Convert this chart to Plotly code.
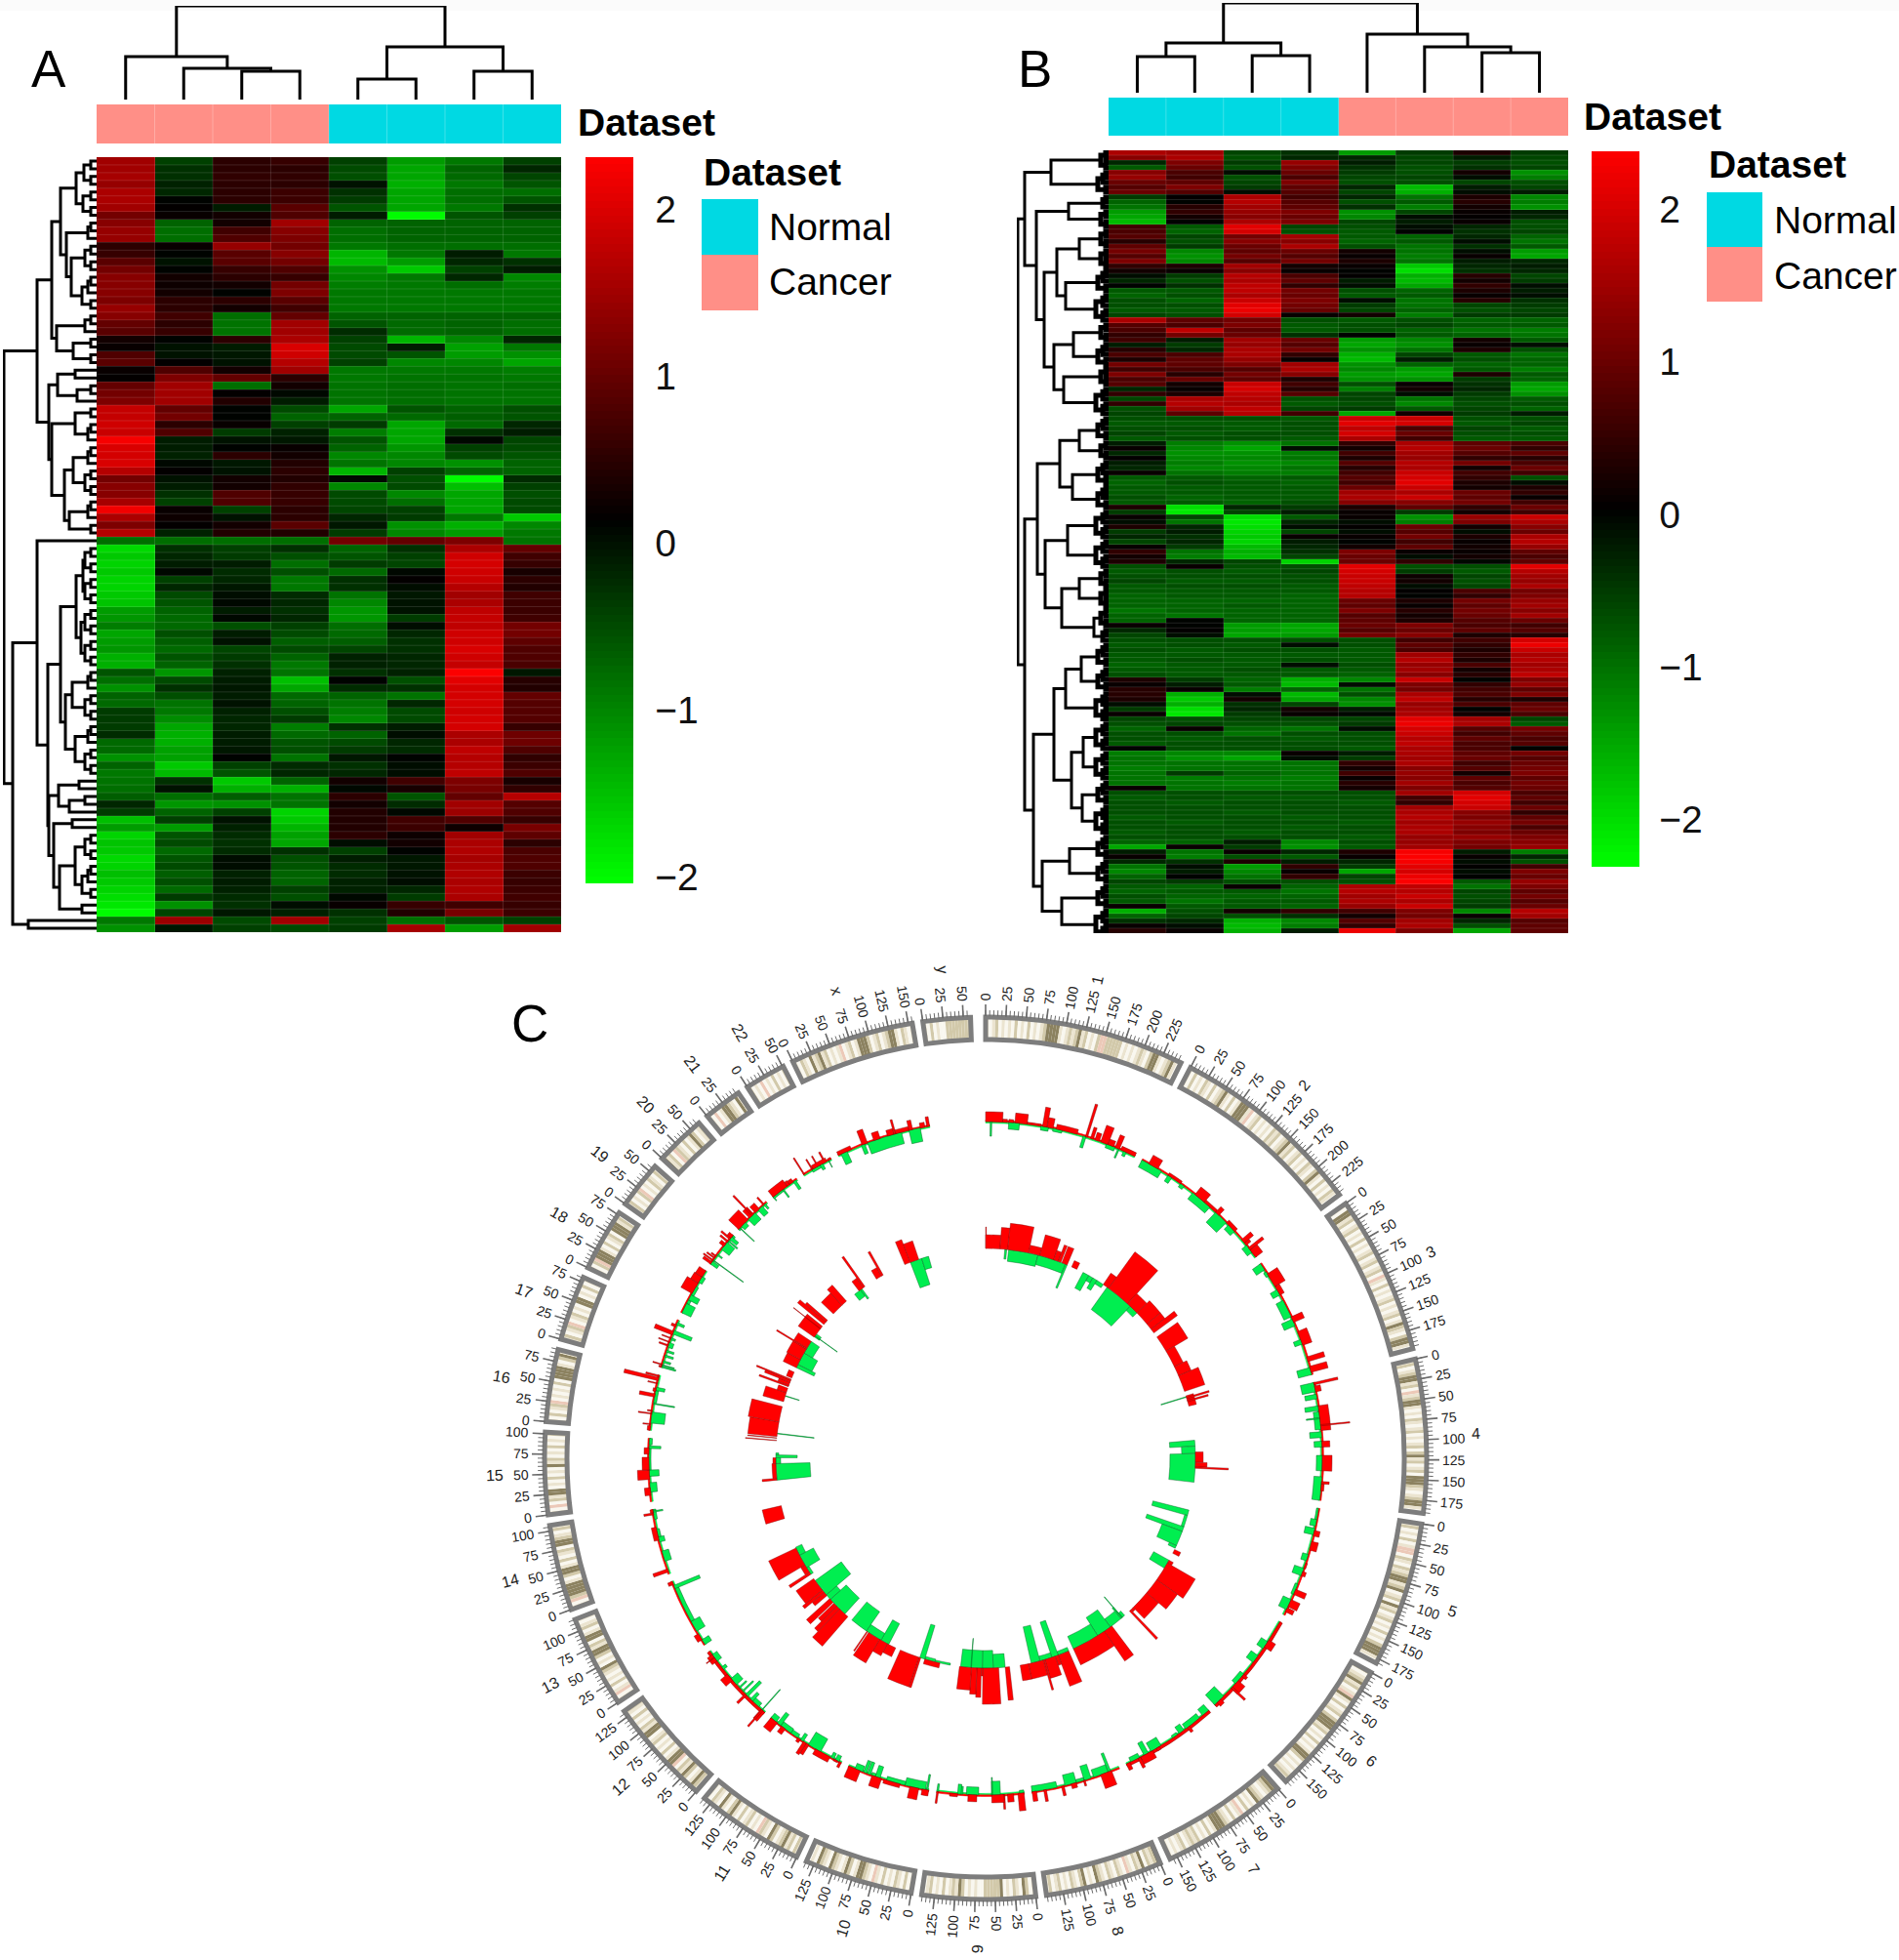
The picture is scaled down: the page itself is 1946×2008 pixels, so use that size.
"""Two expression heatmaps with dendrograms (A, B) and a circos-style genome plot (C)."""
import math

import plotly.graph_objects as go

W, H = 1946, 2008

COLUMNS = list(range(8))
ANNOT_A = [1, 1, 1, 1, 0, 0, 0, 0]  # 1 = Cancer, 0 = Normal
ANNOT_B = [0, 0, 0, 0, 1, 1, 1, 1]
COLORBAR_TICKS = [-2, -1, 0, 1, 2]

HEAT_A = [
    [1.5,-.4,.5,.6,-.4,-1.2,-.9,-.4],[1.5,-.3,.5,.5,-.5,-1.3,-.7,-.2],[1.55,-.3,.55,.55,-.55,-1.3,-.75,-.45],
    [1.4,-.15,.5,.5,0,-1.35,-.9,-.6],[1.6,-.2,.5,.65,-.3,-1.3,-.8,-.8],[1.6,.1,.5,.65,-.35,-1.3,-.8,-.6],
    [1.5,.15,-.1,.9,-.6,-1.3,-.9,-.3],[1.1,.2,.3,.8,-.1,-2,-.6,-.4],[1.3,-.7,.3,1.5,-.7,-.7,-.7,-.7],
    [1.4,-.8,.7,1.3,-.8,-.7,-.7,-.7],[1.4,-.8,.8,1.2,-.8,-.7,-.7,-.7],[.5,.2,1.4,1.1,-.9,-.8,-.8,-.8],
    [.6,.1,.9,1.3,-1.4,-.9,-.1,-.9],[.9,0,.9,1.1,-1.45,-1.2,-.2,-.3],[1.1,.1,.6,.8,-1.1,-1.6,-.4,-.1],
    [1.3,.3,.5,.6,-1,-.9,-.2,-1],[1.3,.25,.3,1.1,-.95,-.9,-.8,-.95],[1.3,.3,.1,1.2,-.9,-.9,-.9,-.9],
    [1.2,.5,.5,.9,-.9,-.9,-.9,-.9],[1.4,.5,.3,.7,-.9,-.9,-.9,-.9],[1.3,.7,-.8,1,-.7,-.7,-.7,-.7],
    [1,.5,-.85,1.5,-.6,-.75,-.7,-.8],[.9,.6,-.85,1.5,-.25,-.75,-.7,-.8],[.3,.1,.5,1.6,-.4,-1.4,-1,-.2],
    [.2,0,-.1,2,-.5,-.1,-1.25,-.9],[.8,0,-.05,1.9,-.5,-.6,-1.2,-1.1],[.9,.15,0,1.7,-.4,-1,-1,-1.3],
    [.2,.8,.3,1.5,-.9,-.9,-.9,-.95],[.15,1.2,1,.5,-.9,-.85,-.85,-.9],[1,1.5,-.8,.3,-.85,-.8,-.85,-.8],
    [1.1,1.5,.15,.05,-.85,-.8,-.85,-.85],[1.2,1.5,.4,-.1,-.85,-.8,-.85,-.85],[1.8,1,.1,-.5,-1.3,-.6,-.7,-.55],
    [1.8,1.1,.1,-.7,-.7,-.75,-.65,-.6],[1.9,.5,.2,-.4,-.35,-1.3,-.75,-.2],[1.85,.8,-.35,-.15,-.95,-1.3,-.3,-.1],
    [2.25,-.1,0,-.05,-.6,-1.3,.05,-.45],[2,-.1,.1,.2,-.7,-1.15,-.4,-.5],[1.95,-.15,.5,.3,-1,-1,-.5,-.6],
    [2,.05,-.05,.4,-.85,-1,-1.1,-.7],[1.7,.15,0,.5,-1.4,-.4,-.7,-.7],[1.1,0,.3,.4,.05,-.55,-2,-.25],
    [1.3,-.1,.3,.55,-1,-.5,-1.5,-.4],[1.3,-.3,.8,.6,-.5,-1,-1.3,-.55],[1.55,-.4,.8,.6,-.5,-.8,-1.3,-.5],
    [2.2,.2,-.4,.5,-.45,-.4,-1.3,-.5],[1.6,.25,0,.5,-.2,-.35,-.9,-1.6],[1.2,.15,.3,.9,-.05,-1.1,-1.35,-1],
    [1.7,-.15,.4,.4,-.35,-1,-1.2,-.9],[-.8,-.8,-.8,-.8,1.1,1,1.2,-.85],[-1.7,-.3,-.4,-.3,-.7,-.3,1.6,1],
    [-1.6,-.2,-.35,-.55,-.6,-.4,1.9,.7],[-1.65,-.1,-.1,-.8,-.35,-.45,1.95,.6],[-1.6,.05,-.25,-.55,-.75,.05,1.9,.35],
    [-1.65,-.4,-.2,-.9,-.3,.15,1.85,.5],[-1.65,-.2,-.05,-.9,-.3,.02,1.7,.4],[-1.6,-.5,.03,-.25,-.85,-.05,1.5,.7],
    [-1.55,-.6,.05,-.2,-1,-.02,1.6,.65],[-1.2,-.7,-.1,-.3,-1.15,-.02,1.75,.65],[-1.15,-.75,.05,-.2,-1.15,-.35,1.8,.7],
    [-.95,-.75,-.55,-.4,-.8,.02,1.75,1.1],[-1.3,-.55,-.1,-.5,-.75,-.2,1.9,1.1],[-1.2,-.65,0,-.65,-.65,-.3,1.9,.95],
    [-1.15,-.75,-.45,-.5,-.45,-.3,2,.8],[-1.35,-.6,-.35,-.7,-.15,-.2,1.9,.8],[-1.35,-.7,-.3,-.9,-.15,-.2,1.8,.75],
    [-.6,-1.15,-.15,-.85,-.3,-.15,2.3,-.05],[-.8,-.5,-.1,-1.5,.1,-.55,2.05,.45],[-1.1,-.3,-.05,-1.3,-.25,-.3,1.95,.4],
    [-.7,-.55,-.1,-.75,-.7,-.85,1.95,1],[-.75,-.85,0,-.7,-.85,-.2,1.95,.85],[-.35,-.9,-.15,-.55,-.95,-.5,1.9,.85],
    [-.35,-1.05,-.2,-.35,-1,-.5,1.95,.85],[-.35,-1.3,-.2,-.95,-.3,-.1,1.95,.6],[-.25,-1.35,-.1,-.75,-.7,.02,1.6,1.05],
    [-.75,-1.35,-.1,-.6,-.5,-.2,1.6,1.05],[-.75,-1.25,-.05,-.55,-.35,-.25,1.75,.8],[-1.1,-1.25,.1,-.85,-.05,.1,1.7,.55],
    [-.7,-1.6,-.4,-.25,-.3,.02,1.7,.65],[-.9,-1.45,-.6,-.2,-.2,.02,1.75,.8],[-.85,-.3,-1.6,-.7,.3,.7,1.2,.35],
    [-.8,-.02,-1.35,-1.35,.05,.35,1.15,.55],[-.65,-.8,-.65,-.85,.5,-.6,1,1.7],[-.2,-1.15,-1.1,-.85,.3,-.25,1.5,.85],
    [-.35,-.7,-.4,-1.65,.4,.05,1.45,.8],[-1.5,-.4,-.02,-1.6,.4,.7,.8,.6],[-1.2,-1.2,-.15,-1.4,.4,.65,.25,1.15],
    [-1.65,-.6,-.25,-1.25,.5,.25,1.5,.95],[-1.55,-.5,-.3,-1.3,.02,.3,1.6,.5],[-1.6,-.75,-.25,-.3,-.4,.1,1.65,.75],
    [-1.7,-.6,.03,-.55,-.1,-.05,1.55,.8],[-1.65,-.5,.02,-.6,-.25,-.05,1.6,.8],[-1.5,-.65,-.15,-.7,-.25,-.03,1.65,.65],
    [-1.6,-.55,-.1,-.7,-.15,.02,1.6,.6],[-1.65,-.75,-.15,-.4,-.15,-.2,1.65,.65],[-1.75,-.35,-.25,-.55,.05,-.35,1.6,.7],
    [-1.85,-1.1,-.3,.03,.2,.6,.7,.6],[-2.05,-.45,-.05,-.15,-.3,.4,1.15,.65],[-.9,1.45,-.5,1.5,-.4,-.8,-.6,-.4],
    [-1.1,-.05,-.4,-.5,-.35,1.55,-1.2,1.5],
]

HEAT_B = [
    [1.6,1.5,-.6,-.4,-1.4,-.5,.3,-.5],[1.3,1.6,-.7,-.3,-.3,-.6,-.2,-.6],[-.3,1.2,-.5,1.4,-.2,-.6,-.5,-.7],
    [-.8,1,-.7,1.2,-.4,-.7,-.4,-.6],[1.3,.7,-.1,1,-.5,-.7,.2,-1.3],[1.4,.6,-.7,.7,-.6,-.6,-.1,-1.1],
    [1,.9,-.6,1.2,-.7,-.7,-.6,-.7],[.8,1.2,-.5,.9,-.3,-1.7,-.2,-.6],[1,.8,-.1,.8,-.6,-1.6,-.1,-.2],
    [-.5,.05,1.6,.6,-.3,-1,.3,-1.2],[-.9,0,1.7,.8,-.7,-.8,.4,-1.1],[-1,.4,1.5,.9,-.4,-1.1,.2,-1.3],
    [-1.4,.5,1.4,1.2,-1.3,-.6,.1,-.2],[-1.5,.2,1.3,1,-1.2,-.1,.05,-.3],[-1.7,0,1.6,1.2,-.6,-.2,.1,-.7],
    [.6,-.8,2.1,-.6,-.7,-.1,-.3,-.7],[.7,-.9,2,-.7,-.8,0,-.4,-.6],[.8,-.6,1.1,1.5,-.8,-.9,-.3,-.9],
    [.4,-.7,1.3,1.3,-.9,-.8,-.1,-1],[.9,-.5,1,1.6,-.7,-1,-.4,-.8],[1.1,-1.2,.9,1,.2,-1,-.1,-1.4],
    [.8,-1.3,1.1,.8,.1,-1.1,.1,-1.5],[1.2,-1.2,.8,1.1,.3,-1,-.2,-.3],[.5,.3,1.5,.2,.1,-1.8,-.3,-.2],
    [.2,.1,1.3,.1,0,-2,-.4,-.3],[-.1,-.5,1.7,.7,.05,-1.6,.4,-.6],[-.3,-.7,1.6,.9,-.2,-1.7,.2,-.5],
    [0,-.4,1.8,.5,-.1,-1.5,.5,-.1],[-.8,-.8,1.8,1.1,-.7,-.9,.3,-.2],[-.9,-.7,1.6,1,-.8,-.8,.1,-.1],
    [-.7,-.9,1.9,1.2,-.1,-1,.4,-.4],[-.7,-.7,2.1,1.1,-.5,-1,-.6,-.5],[-.8,-.8,2.2,1,-.6,-.9,-.7,-.6],
    [-.6,-.7,2,.1,.2,-1.1,-.5,-.5],[1.6,.9,1.1,-.7,-.8,-.7,-.9,-.9],[.8,.7,1.2,-.8,-.7,-.6,-.8,-.8],
    [.7,1.8,.9,-.8,-.7,-.9,-1,-1.1],[.5,1.1,1,-.4,0,-.8,-.9,-1],[.6,-.2,1.5,1,-1.4,-1.2,.2,-.8],
    [-.2,-.5,1.4,.8,-1.5,-1.3,.1,-.1],[.4,-.3,1.6,1.1,-1.3,-1,.3,-.7],[.7,.7,1.6,.5,-1.6,-.6,-.8,-1],
    [.3,.9,1.4,.1,-1.7,-.2,-.7,-.9],[1.1,.9,1.2,1.5,-1.3,-.9,-.9,-.9],[.6,.7,.8,1.6,-1.2,-1.4,-.8,-1.1],
    [1.2,.4,1.1,1.3,-1.4,-1.5,.3,-.8],[.7,1,.9,.3,-1.3,-1.3,-.5,-.9],[.8,.2,1.9,.6,-.7,.1,-.4,-1.4],
    [-.3,.1,2,.4,-1.1,.2,-.3,-1.5],[.5,.3,1.8,.8,-.6,-.1,-.5,-1.3],[-.6,1.6,1.7,-.7,-.6,-1,-.6,-.8],
    [.5,1.7,1.6,-.8,-.7,-1.2,-.7,-.7],[-.7,1.5,1.8,-.6,-.5,-.8,-.6,-.9],[-.6,.9,1.7,.6,-1.5,.2,-.5,-.2],
    [-.7,-.7,-.7,-.8,1.9,1.9,-.7,-.7],[-.8,-.8,-.8,-.7,2.1,2,-.8,-.6],[-.7,-.7,-.8,-.7,1.8,.7,-.6,-.8],
    [-.6,-.8,-.7,-.7,2,1,-.7,-.7],[-.8,-.7,-.7,-.8,1.6,.6,-.8,-.8],[-.2,-1.1,-1.3,-1,.5,1.6,.9,.7],
    [.1,-1.2,-1.5,-.1,.2,1.7,1,.5],[-.3,-1.3,-1.3,-1.1,.6,1.5,.8,.9],[.05,-1.2,-1.2,-1,.3,1.4,.5,.4],
    [-.2,-1.1,-1.3,-1.2,.8,1.7,1.1,.7],[-.3,-1.2,-1.2,-1,.4,1.6,.2,1],[.1,-1,-1.1,-1.1,.6,1.9,.6,.6],
    [-.8,-.8,-.9,-.8,.8,2,.5,-.7],[-.9,-.7,-.8,-.9,.6,2.1,.3,-.1],[-.8,-.8,-.8,-.8,1,1.9,.2,.3],
    [-.8,-.8,-.8,-.8,1.5,1.6,1,.5],[-.7,-.9,-.8,-.8,1.6,1.9,.9,.1],[-.8,-.8,-.9,-.7,1.3,1.3,1.1,.6],
    [.3,-2,-.3,-.5,.3,.9,.5,1],[-.5,-2.1,-.6,-.2,.1,-.5,.2,.6],[.1,-.6,-2,-.8,.1,-1.3,1.4,1.9],
    [-.1,-1,-2.1,-.3,-.1,-1.1,1.2,1.6],[.3,-.3,-2,-.1,.05,1,.2,1.3],[-.5,-.2,-1.9,-.6,-.1,.8,-.1,1],
    [-.3,-.4,-1.8,.1,.1,1.1,.3,1.6],[-.6,-.3,-1.9,-.2,0,.6,.1,1.7],[.1,-.5,-1.7,-.3,.2,.9,.2,1.4],
    [.5,-1,-1.6,-.4,1.2,.1,.1,.9],[.2,-1.1,-1.7,-.6,1,-.1,.2,.7],[.3,-.3,-.6,-1.9,1,.5,-.05,.9],
    [-.7,.1,-.7,-.7,2.1,-.7,-.7,2.1],[-.8,-.7,-.8,-.6,2,-.5,-.8,1.7],[-.7,-.7,-.7,-.7,1.9,.15,-.6,1.5],
    [-.6,-.8,-.8,-.7,1.9,.2,-.7,1.4],[-.8,-.7,-.7,-.8,1.8,-.1,-.6,1.6],[-.8,-.8,-.8,-.8,1.7,.05,.7,1.1],
    [-.9,-.8,-.8,-.9,1.7,0,.5,1.2],[-.9,-.9,-.9,-.9,1,.3,1.1,1.4],[-.9,-.9,-.8,-.9,.9,.1,.9,1.5],
    [-1,-.9,-.9,-.9,1.2,.4,1.1,1.3],[-.9,-1,-.9,-.9,.8,.2,1,1.5],[-.9,0,-.9,-.9,.9,.3,.8,1],
    [.1,0,-1.4,-1.5,1,1.2,.7,.6],[-.3,.05,-1.4,-1.5,.8,1,.9,.8],[-.6,-.1,-1.5,-1.4,1.1,1.3,.3,.4],
    [-.7,-.7,-.7,-.7,-.7,.6,.6,2],[-.8,-.7,-.8,-.1,-.7,.9,.5,2.2],[-.7,-.8,-.7,-.7,-.8,.7,.3,1.9],
    [-.8,-.8,-.8,-.8,-.8,1.5,.5,1.6],[-.8,-.7,-.8,-.7,-.8,1.7,.3,1.7],[-.9,-.8,-.8,-.1,-.7,1.4,.7,1.5],
    [-.8,-.8,-.7,-.8,-.8,1.5,.2,1.6],[-.7,-.8,-.8,-.8,-.9,1.3,.4,1.8],[.3,-.5,-.9,-1.6,-1.2,1.9,0,1.2],
    [.1,-.2,-.8,-1.7,-.1,1.2,.5,1.4],[.4,.1,-1.1,-.9,-1,1.1,.6,.9],[.4,-1.6,-.1,-1.7,-.7,1.6,.7,1.2],
    [.3,-1.8,.2,-1.5,-1.2,1.8,.4,.3],[-.1,-1.6,-.4,-.6,-1.3,1.4,.7,.9],[-.5,-2,-.3,.2,-.2,1.5,0,1],
    [.1,-2.1,-.5,.1,-.05,1.6,.2,.7],[-.6,-.7,-.6,-.6,-.6,2.1,1.5,-.6],[-.7,-.6,-.7,-.7,-.5,2.2,1.6,-.8],
    [-.9,.1,-.9,-1,-.1,2,.8,1.1],[-.7,-.7,-1,-.7,-.7,1.9,.6,.9],[-.7,-.8,-.7,-.8,-.7,1.7,.9,.7],
    [-.8,-.7,-.7,-.7,-.7,1.8,.7,.8],[0,-.7,-.7,-.7,-.8,1.6,.7,0],[-1.1,-1.2,-1.2,.1,-.2,1.6,.9,1.1],
    [-1,-1.3,-1.5,-.1,-.5,1.5,1,.8],[-1,-1,-1,-1,.5,1.6,.6,1],[-1.1,-1,-1,-1,.2,1.3,.8,1.1],
    [-1,-.5,-.9,-1,.6,1.4,.2,1.2],[-1,-1.1,-1,-1.1,.1,1.3,.9,.9],[-1,-1,-1.1,-1,.4,1.5,.7,1.1],
    [.1,-1,-1,-1,.2,1.2,.8,1],[-.7,-.7,-.7,-.7,-.7,1.5,2,.7],[-.8,-.7,-.8,-.8,-.7,.6,2.1,.9],
    [-.7,-.8,-.7,-.7,-.8,.5,2,.6],[-.7,-.7,-.7,-.7,-.7,1.5,1.9,1],[-.7,-.7,-.8,-.7,-.7,1.6,1.3,.5],
    [-.8,-.7,-.7,-.8,-.7,1.7,1.2,.9],[-.7,-.8,-.7,-.7,-.8,1.5,1.4,1.1],[-.7,-.7,-.7,-.8,-.7,1.6,1.3,.7],
    [-.8,-.7,-.8,-.7,-.7,1.6,1.2,1],[-.7,-.7,-.7,-.7,-.8,1.4,1.4,1.2],[-.9,-.9,-.2,-1.2,-.7,1.4,1.2,1.3],
    [-1.5,.1,-.5,-1.3,-.8,1.5,1.1,1.4],[-.2,-1,.1,-.3,.3,2.3,-.2,-1.1],[.1,-1.1,-.7,-.8,.1,2.4,.1,-.3],
    [-.3,-.4,.3,-.2,-.3,2.3,-.1,-.7],[-1,-.1,-1.4,.5,-.5,2.1,.05,.6],[-1.2,-.2,-1.2,.1,-1.5,2,-.1,1.2],
    [-.9,0,-1,.5,-.6,2.2,0,1],[-.6,-.5,-.7,-.7,-.7,2.4,-.8,1.4],[-.8,-.9,.1,-.9,1.6,1.8,-1,1.2],
    [-.9,-.8,-.8,-1,1.7,1.7,-.6,.9],[-.7,-.9,-.9,-.9,1.5,1.9,-.7,1.1],[-.8,-1,-.8,-.8,1.6,1.6,-.6,.8],
    [.1,-.8,-.8,-.9,1.4,1.9,-.5,1],[-1.6,-.7,.2,.5,.6,1.2,-1.2,1.7],[-.9,-.6,-.7,-.4,.2,1.1,.1,1.5],
    [-.4,-.3,-1.6,-1.2,.8,1.5,-.3,.8],[.1,-.1,-1.7,-1.1,.5,1.6,-.7,.9],[.4,.1,-1.6,-.2,2.2,1.2,-1.5,.9],
]

# dendrograms: [merge height in pixels, left child, right child]; 0 is a leaf
t2 = [6, 0, 0]
t3 = [9, t2, 0]
t4 = [12, t2, t2]
t5 = [15, t3, t2]
TREE_A_TOP = [96, [44, 0, [32, 0, [29, 0, 0]]], [54, [21, 0, 0], [29, 0, 0]]]
TREE_A_ROWS = [95,
    [61,
        [46,
            [37, [21, [13, t2, t2], [14, t2, t2]], [31, t3, [26, t4, t5]]],
            [41, [12, t2, 0], [24, t2, t2]]],
        [49,
            [40, [22, 0, 0], [20, t2, 0]],
            [46, [22, t2, t3], [33, [24, t3, t4], [28, t3, t2]]]]],
    [86,
        [61, 0,
            [50,
                [37, [21, [14, t4, t4], [16, t4, t4]], [32, [25, t3, t4], [22, t3, t4]]],
                [49,
                    [39, [18, 0, 0], [28, [12, 0, 0], 0]],
                    [44, [25, 0, 0], [38, [22, t4, t5], [15, 0, 0]]]]]],
        [70, 0, 0]]]

u2 = [3, 0, 0]
u3 = [6, u2, 0]
u4 = [8, u2, u2]
u5 = [11, u3, u2]
u6 = [13, u3, u3]
u7 = [15, u4, u3]
u8 = [17, u4, u4]
TREE_B_TOP = [92, [51, [37, 0, 0], [38, 0, 0]], [60, 0, [47, 0, [41, 0, 0]]]]
TREE_B_ROWS = [93,
    [86,
        [59, u4, u5],
        [74,
            [41, u3, u4],
            [66,
                [53, [30, u4, u4], [44, u5, u6]],
                [56, [36, u4, u5], [46, u4, u6]]]]],
    [86,
        [73,
            [50, [30, u5, u4], [37, u5, u5]],
            [65, [42, u6, u6], [48, [30, u4, u4], u7]]],
        [77,
            [56, [44, [28, u5, u5], u6], [38, [26, u6, u6], [27, u5, u6]]],
            [68, [40, u5, u5], [48, u5, u6]]]]]

# genome plot
CHROMS = ["1","2","3","4","5","6","7","8","9","10","11","12","13","14","15","16","17","18","19","20","21","22","x","y"]
CHROM_MB = [249,243,198,191,181,171,159,146,141,135,135,133,115,107,102,90,81,78,59,63,48,51,155,59]
DEG_PER_MB = 0.1056
GAP_DEG = 1.38

# one letter per equal slice of the chromosome: w white, l light, t tan, d dark, r red
BANDS = {
    "1": "lwltwlwlwtwlwtwlwltddddlwltltdltwlwtrrtttttwlwlwltlwtddlwltdlw",
    "2": "lwtwlwtlwtwltdlwtwldddlrwltwlwlwtltwltdltwltwlwtlwtdlwtwlwtlw",
    "3": "lwddltwltwlwtwlwltwltwltwrlwtwlwltwlwltwldtlwtddlw",
    "4": "ltwltddltwrltddlwlwtlwltwlwltwtdltwltwdddtlwltddlw",
    "5": "ltwlwtwlrrwtlwtltddltdwltwdltwltwlwtwlwtdddlw",
    "6": "twltdltwlrdlwtwltwtdddltwlwtwlwlddtwlwlwltl",
    "7": "ddtlwltdwlwtwrlwtwltdddlwtwlwtltlwtlwlwl",
    "8": "dtltwdltwlrwltwltwltdwlwdtwltwlwtlwtl",
    "9": "lwtdwltwlwdtttttwwlwlwtdltlwtwlwtlw",
    "10": "lwtwltwlwtwlrwltddlwtdlwltdwltdwlw",
    "11": "ltwtldtlwtdwltrwlwtlwtwldtwldwltwl",
    "12": "ltdlwtdltwrddlwtwlwtlwddltwlwtwlt",
    "13": "lwrlwtwlwltdwlwtddltwddlwtlwl",
    "14": "lwrtddddlwtddlwtwltwddtlwtl",
    "15": "lwrwtlddwlwtwlwdltwlwtwlwt",
    "16": "lwtwltrwlwlwtwddddlwtdl",
    "17": "ltwltrwltwlwddwlwtwl",
    "18": "lwtrdddlwtwltwdddltw",
    "19": "ltwlwtrwlwtlwtl",
    "20": "dltwrtlwtwldtwlt",
    "21": "lwrwlddtlwdl",
    "22": "twlwrwlwtwlwt",
    "x": "lwtlwdltdltwlwlrwltwldddtwltwltddlwtlwl",
    "y": "lwtwlwwtttttttt",
}
BAND_COLORS = {"w": "#f9f7ef", "l": "#ebe4d0", "t": "#d2c9aa", "d": "#8c8260", "r": "#ecc9b8"}

# histogram tracks: chromosome -> (start %, end % along the chromosome, height)
OUTER_RED = {
    "1": [(0,11,10),(11,14,3),(15,18,3),(19,27,10),(27,36,2),(37,40,20),(40,44,10),(46,60,5),(65.5,67,35),(69,71,12),(72,75,8),(76,81,18),(81,85,6),(86,89,14),(90,100,4)],
    "2": [(5,12,10),(20,30,3),(42,50,10),(50,60,3),(60,63,8),(70,78,4),(85,88,12),(88,90,6),(92,94,18),(94,100,9)],
    "3": [(10,22,12),(22,30,5),(50,55,12),(63,75,10),(85,89,18),(93,98,18)],
    "4": [(0,2,25),(3,8,6),(20,41,10),(36,37,30),(50,55,8),(62,75,10),(84,86,8),(86,92,3)],
    "5": [(20,25,6),(30,38,7),(50,55,2),(58,62,4),(75,80,12),(85,92,10),(93,97,8)],
    "6": [(0,100,3),(20,28,8),(60,63,5),(68,78,9),(76,78,18),(92,97,5)],
    "7": [(0,100,3),(25,28,6),(62,66,3),(70,84,8),(84,87,11),(96,100,7)],
    "8": [(9,22,15),(40,42,6),(50,56,5),(64,67,10),(84,87,12),(95,100,10)],
    "9": [(0,7,18),(12,19,8),(22,24,15),(23,37,8),(54,64,7),(76,85,3),(98,100,12)],
    "10": [(0,8,6),(12,23,12),(35,55,4),(58,70,11),(85,100,12)],
    "11": [(0,3,6),(5,10,2),(15,35,6),(44,48,12),(48,52,14),(56,60,4),(78,84,7),(90,100,12)],
    "12": [(0,100,3),(0,6,12),(3,5,22),(30,33,12),(55,65,9),(85,95,6),(90,91,10)],
    "13": [(8,18,5),(95,100,5)],
    "14": [(3,8,16),(53,73,5),(92,95,10),(95,100,3)],
    "15": [(10,22,6),(35,50,12),(50,70,7),(75,85,5)],
    "16": [(0,8,3),(10,12,8),(29,31,14),(34,36,5),(60,66,16),(70,76,3),(84,86,10),(90,96,36),(97,100,14)],
    "17": [(0,3,3),(5,7,10),(44,47,10),(52,54,12),(60,62,10),(68,76,20),(85,90,5)],
    "18": [(45,70,13),(70,85,9),(85,100,8)],
    "19": [(0,8,10),(10,14,12),(18,22,10),(24,28,6),(60,70,6),(75,80,10),(85,90,12),(90,100,5)],
    "20": [(0,35,14),(40,55,10),(48,52,28),(60,75,8),(88,92,10)],
    "21": [(0,60,8),(60,70,5),(70,85,4)],
    "22": [(0,4,20),(30,34,12),(50,54,12),(75,80,12),(35,85,4),(90,100,2)],
    "x": [(0,15,4),(27,33,15),(40,47,8),(55,62,6),(62,64,15),(64,78,4),(78,82,10),(90,95,5),(97,100,10)],
}
OUTER_GREEN = {
    "1": [(3,4,15),(15,22,7),(36,41,4),(44,50,3),(64,66,12),(80,86,4),(88,89,10),(92,94,5)],
    "2": [(0,15,8),(20,23,7),(30,33,4),(40,55,8),(60,70,14),(72,78,6),(90,96,6)],
    "3": [(0,6,10),(8,12,3),(25,30,8),(35,50,8),(52,58,12),(70,74,8),(94,100,14)],
    "4": [(0,8,14),(10,14,12),(20,24,14),(25,40,6),(30,31,14),(42,47,12),(50,55,8),(62,75,6),(80,100,8)],
    "5": [(0,10,2),(10,16,6),(18,24,10),(42,48,6),(55,62,10),(70,80,3),(85,95,9)],
    "6": [(22,30,8),(38,46,9),(60,72,5),(88,100,14)],
    "7": [(0,8,8),(12,30,6),(32,38,8),(40,46,3),(60,72,10),(75,80,14),(85,95,5)],
    "8": [(10,13,20),(13,30,8),(33,41,15),(41,50,3),(50,63,11),(72,100,6)],
    "9": [(0,5,3),(27,37,14),(36,37,18),(52,66,8),(70,73,8),(72,76,10),(98,100,8)],
    "10": [(1,3,16),(4,29,8),(29,52,4),(60,66,12),(66,71,3),(72,76,13),(77,81,13),(82,92,6)],
    "11": [(3,8,6),(10,14,6),(28,45,15),(52,56,8),(60,70,4),(70,85,5),(85,90,14),(92,100,6)],
    "12": [(4,5,28),(10,20,5),(20,24,10),(28,32,20),(36,38,15),(42,44,10),(48,58,9),(72,76,5),(85,95,6)],
    "13": [(0,8,8),(22,38,10),(38,90,4),(89,94,28)],
    "14": [(20,36,7),(50,58,6),(58,70,3),(85,100,3),(96,98,10)],
    "15": [(15,30,7),(40,50,10),(50,85,2),(84,88,12),(90,100,3)],
    "16": [(13,33,14),(47,49,22),(50,72,3),(72,78,9)],
    "17": [(0,3,15),(4,6,13),(10,14,8),(22,26,9),(32,36,8),(42,52,5),(58,62,5),(70,78,20),(90,95,8)],
    "18": [(0,22,10),(22,30,3),(30,42,10),(42,62,3),(72,86,4)],
    "19": [(0,10,8),(12,14,38),(30,34,6),(50,75,10),(78,82,12),(85,95,9),(95,100,3)],
    "20": [(0,5,2),(4,6,20),(10,25,5),(35,60,9),(70,85,9),(90,95,6)],
    "21": [(0,3,5),(0,40,2),(40,45,10),(85,95,10)],
    "22": [(30,60,3),(60,70,6),(90,92,8)],
    "x": [(3,10,12),(26,30,10),(33,70,12),(78,90,14)],
}
INNER_RED = {
    "1": [(0,.7,22),(0,15,14),(15,23,22),(23,45,27),(45,57,8),(57,72,22),(72,77,10),(77,80,18),(81,87,18),(92,98,7)],
    "2": [(25,32,14),(32,58,46),(58,72,14),(72,88,18),(88,95,18),(95,100,30)],
    "3": [(0,22,26),(22,45,10),(45,58,14),(58,80,22),(86,100,8),(88,90,24),(92,94,22)],
    "4": [(56,70,8),(70,76,12),(76,78,34)],
    "5": [(90,96,7)],
    "6": [(0,5,5),(5,35,33),(35,60,26),(60,90,16),(90,95,3),(95,98,40)],
    "7": [(27,42,37),(42,100,18)],
    "8": [(0,20,34),(20,26,10),(26,45,20),(45,48,32),(48,75,16),(75,90,16)],
    "9": [(0,8,34),(20,49,37),(49,52,8),(52,60,30),(60,70,27),(70,92,23)],
    "10": [(20,50,5),(58,62,32),(62,100,32)],
    "11": [(0,18,10),(18,35,14),(35,60,28),(62,64,24)],
    "12": [(0,22,40),(22,30,32),(30,38,22),(40,50,32),(58,66,16),(66,72,26),(72,100,22)],
    "13": [(0,6,25),(6,25,5),(25,68,31)],
    "14": [(30,62,20)],
    "15": [(13,18,15),(18,55,4),(55,70,3)],
    "16": [(0,2,32),(7,9,30),(12,55,30),(55,100,32)],
    "17": [(0,30,22),(30,45,10),(50,55,32),(55,65,12),(65,72,28),(72,76,38),(80,100,6)],
    "18": [(0,30,15),(30,70,16),(70,74,36),(74,100,16)],
    "19": [(0,60,20),(45,47,35),(70,85,35),(85,95,28)],
    "20": [(10,60,17),(60,85,22)],
    "21": [(40,70,12),(70,80,38)],
    "22": [(25,55,10),(55,65,28)],
    "x": [(20,30,25),(30,45,20)],
}
INNER_GREEN = {
    "1": [(20,22,10),(24,55,12),(55,85,10),(85,87,26)],
    "2": [(0,7,18),(7,12,6),(12,17,12),(17,25,4),(30,62,28),(62,72,6)],
    "3": [(87,88,27)],
    "4": [(40,48,26),(48,58,14),(58,97,26)],
    "5": [(30,38,38),(38,55,3),(55,62,40),(62,84,22),(84,88,8)],
    "6": [(0,14,18)],
    "7": [(0,5,6),(5,8,14),(5,6,28),(8,30,10),(30,55,22),(55,100,14)],
    "8": [(0,20,4),(20,32,38),(32,54,5),(54,70,38)],
    "9": [(8,30,14),(30,50,18),(50,90,18),(70,71,30)],
    "10": [(0,30,2),(30,50,3),(50,60,36)],
    "11": [(15,32,24),(32,65,8),(65,100,24)],
    "12": [(8,48,22),(48,60,14),(60,95,33)],
    "13": [(0,18,3),(18,50,16),(50,70,7)],
    "15": [(13,55,35),(55,70,5),(70,77,22),(77,82,3)],
    "16": [(20,22,38)],
    "17": [(18,20,15)],
    "18": [(0,12,20),(12,55,16),(55,100,10)],
    "19": [(2,18,6),(6,8,28)],
    "21": [(10,50,8),(50,60,12)],
    "x": [(30,50,28),(50,62,12)],
}
OUTER_BASE, INNER_BASE = 345, 215
IDEO_IN, IDEO_OUT = 429, 452

RED, GREEN = "#ff0000", "#00ee50"
NORMAL, CANCER = "#00d9e3", "#ff8f87"
FONT = "Liberation Sans"


def band_scale(steps=100):
    # the green-black-red ramp, cut into flat steps like the colour key
    scale = []
    for i in range(steps):
        f = (i + 0.5) / steps
        if f < 0.5:
            c = f"rgb(0,{round(255 * (1 - 2 * f))},0)"
        else:
            c = f"rgb({round(255 * (2 * f - 1))},0,0)"
        scale += [[i / steps, c], [(i + 1) / steps, c]]
    return scale


def tree_lines(node, xs, hs, counter):
    """Walk a nested tree, return (leaf position, height) and collect the elbows."""
    if node == 0:
        counter[0] += 1
        return counter[0] - 1, 0
    p1, h1 = tree_lines(node[1], xs, hs, counter)
    p2, h2 = tree_lines(node[2], xs, hs, counter)
    h = node[0]
    xs += [p1, p1, p2, p2, None]
    hs += [h1, h, h, h2, None]
    return (p1 + p2) / 2, h


fig = go.Figure()
layout_axes = {}
axis_count = [0]


def add_axes(x0, x1, y0, y1, xrange, yrange):
    axis_count[0] += 1
    n = axis_count[0]
    sfx = "" if n == 1 else str(n)
    layout_axes["xaxis" + sfx] = dict(domain=[x0 / W, x1 / W], range=xrange, visible=False,
                                      anchor="y" + sfx, fixedrange=True)
    layout_axes["yaxis" + sfx] = dict(domain=[1 - y1 / H, 1 - y0 / H], range=yrange, visible=False,
                                      anchor="x" + sfx, fixedrange=True)
    return "x" + sfx, "y" + sfx


def heat_panel(z, annot, tree_top, tree_rows, box, annot_y, top_y, root_x, bar):
    x0, x1, y0, y1 = box
    nrows = len(z)
    xr, yr = [-.5, 7.5], [nrows - .5, -.5]
    zmin, zmax = bar["zmin"], bar["zmax"]

    xa, ya = add_axes(x0, x1, y0, y1, xr, yr)
    fig.add_trace(go.Heatmap(
        z=z, x=COLUMNS, y=list(range(nrows)), xaxis=xa, yaxis=ya, zmin=zmin, zmax=zmax,
        colorscale=band_scale(),
        colorbar=dict(x=bar["x"] / W, xanchor="left", y=1 - bar["top"] / H, yanchor="top",
                      len=bar["bottom"] - bar["top"], lenmode="pixels",
                      thickness=49, thicknessmode="pixels", xpad=0, ypad=0, outlinewidth=0,
                      tickmode="array", tickvals=COLORBAR_TICKS, ticks="outside", ticklen=bar["gap"],
                      tickcolor="rgba(0,0,0,0)", tickfont=dict(family=FONT, size=39, color="#111")),
    ))
    gx, gy = [], []
    for c in COLUMNS[:-1]:
        gx += [c + .5, c + .5, None]
        gy += [-.5, nrows - .5, None]
    for r in range(nrows - 1):
        gx += [-.5, 7.5, None]
        gy += [r + .5, r + .5, None]
    fig.add_trace(go.Scatter(x=gx, y=gy, xaxis=xa, yaxis=ya, mode="lines", hoverinfo="skip",
                             line=dict(color="rgba(255,255,255,0.13)", width=1)))

    xa, ya = add_axes(x0, x1, annot_y[0], annot_y[1], xr, [-.5, .5])
    fig.add_trace(go.Heatmap(z=[annot], x=COLUMNS, xaxis=xa, yaxis=ya, zmin=0, zmax=1, showscale=False,
                             colorscale=[[0, NORMAL], [.5, NORMAL], [.5, CANCER], [1, CANCER]]))
    gx, gy = [], []
    for c in COLUMNS[:-1]:
        gx += [c + .5, c + .5, None]
        gy += [-.5, .5, None]
    fig.add_trace(go.Scatter(x=gx, y=gy, xaxis=xa, yaxis=ya, mode="lines", hoverinfo="skip",
                             line=dict(color="rgba(255,255,255,0.25)", width=1)))

    # column tree above, row tree to the left
    xs, hs = [], []
    tree_lines(tree_top, xs, hs, [0])
    xa, ya = add_axes(x0, x1, top_y[0], top_y[1], xr, [0, top_y[1] - top_y[0]])
    fig.add_trace(go.Scatter(x=xs, y=hs, xaxis=xa, yaxis=ya, mode="lines", cliponaxis=False,
                             hoverinfo="skip", line=dict(color="#000", width=3)))
    xs, hs = [], []
    tree_lines(tree_rows, xs, hs, [0])
    xa, ya = add_axes(root_x, x0, y0, y1, [x0 - root_x, 0], yr)
    fig.add_trace(go.Scatter(x=hs, y=xs, xaxis=xa, yaxis=ya, mode="lines", cliponaxis=False,
                             hoverinfo="skip", line=dict(color="#000", width=3)))
    if bar.get("dense"):
        # the tightest merges crowd together into a solid strip beside the heatmap
        dx, dh = [], []
        for i in range(0, len(xs), 5):
            if max(hs[i + 1], hs[i + 2]) <= bar["dense"]:
                dx += xs[i:i + 5]
                dh += hs[i:i + 5]
        fig.add_trace(go.Scatter(x=dh, y=dx, xaxis=xa, yaxis=ya, mode="lines", cliponaxis=False,
                                 hoverinfo="skip", line=dict(color="#000", width=5)))


heat_panel(HEAT_A, ANNOT_A, TREE_A_TOP, TREE_A_ROWS, (99, 575, 161, 955), (107, 147), (6, 102), 3,
           dict(x=600, top=161, bottom=905, zmin=-2.04, zmax=2.31, gap=15))
heat_panel(HEAT_B, ANNOT_B, TREE_B_TOP, TREE_B_ROWS, (1136, 1607, 154, 956), (100, 139), (3, 95), 1042,
           dict(x=1631, top=155, bottom=888, zmin=-2.31, zmax=2.38, gap=13, dense=13))

# circos panel: polar axes where one radial unit is one pixel
CX, CY, R = 1010, 1494, 510
chrom_start = {}
a = 0.0
for name, mb in zip(CHROMS, CHROM_MB):
    chrom_start[name] = a
    a += mb * DEG_PER_MB + GAP_DEG
chrom_len = dict(zip(CHROMS, CHROM_MB))

band_t, band_w, band_c = [], [], []
for name in CHROMS:
    s = BANDS[name]
    step = chrom_len[name] * DEG_PER_MB / len(s)
    for i, ch in enumerate(s):
        band_t.append(chrom_start[name] + (i + .5) * step)
        band_w.append(step)
        band_c.append(BAND_COLORS[ch])
fig.add_trace(go.Barpolar(theta=band_t, width=band_w, r=[IDEO_OUT - IDEO_IN] * len(band_t),
                          base=[IDEO_IN] * len(band_t), hoverinfo="skip",
                          marker=dict(color=band_c, line=dict(width=0))))
fig.add_trace(go.Barpolar(theta=[chrom_start[c] + chrom_len[c] * DEG_PER_MB / 2 for c in CHROMS],
                          width=[m * DEG_PER_MB for m in CHROM_MB],
                          r=[IDEO_OUT - IDEO_IN] * 24, base=[IDEO_IN] * 24, hoverinfo="skip",
                          marker=dict(color="rgba(0,0,0,0)", line=dict(color="#7d7d7d", width=5))))

for step, length, lw in ((5, 7, 1), (25, 13, 1.6)):
    tt, rr = [], []
    for name in CHROMS:
        for mb in range(0, chrom_len[name] + 1, step):
            t = chrom_start[name] + mb * DEG_PER_MB
            tt += [t, t, None]
            rr += [IDEO_OUT + 1, IDEO_OUT + length, None]
    fig.add_trace(go.Scatterpolar(theta=tt, r=rr, mode="lines", hoverinfo="skip",
                                  line=dict(color="#6a6a6a", width=lw)))


def track(segments, baseline, outward, color, edge):
    tt, ww, bb, rr = [], [], [], []
    for name, segs in segments.items():
        span = chrom_len[name] * DEG_PER_MB
        for p0, p1, h in segs:
            tt.append(chrom_start[name] + span * (p0 + p1) / 200)
            ww.append(span * (p1 - p0) / 100)
            rr.append(h)
            bb.append(baseline if outward else baseline - h)
    fig.add_trace(go.Barpolar(theta=tt, width=ww, r=rr, base=bb, hoverinfo="skip",
                              marker=dict(color=color, line=dict(color=edge, width=0.6))))


base_red = {c: [(0, 100, 1.5)] for c in CHROMS[:-1]}
base_green = {c: [(0, 100, 1.5)] for c in CHROMS[:-1]}
track(base_green, OUTER_BASE, False, GREEN, GREEN)
track(base_red, OUTER_BASE, True, RED, RED)
track(OUTER_GREEN, OUTER_BASE, False, GREEN, "rgba(0,90,30,0.8)")
track(OUTER_RED, OUTER_BASE, True, RED, "rgba(110,0,0,0.7)")
track(INNER_GREEN, INNER_BASE, False, GREEN, "rgba(0,90,30,0.7)")
track(INNER_RED, INNER_BASE, True, RED, "rgba(110,0,0,0.6)")


def radial_text(text, theta, r, size):
    rad = math.radians(theta)
    angle = theta - 90 if theta % 360 < 180 else theta - 270
    return dict(text=text, x=(CX + r * math.sin(rad)) / W, y=1 - (CY - r * math.cos(rad)) / H,
                xref="paper", yref="paper", xanchor="center", yanchor="middle", showarrow=False,
                textangle=angle, font=dict(family=FONT, size=size, color="#222"))


annotations = []
for name in CHROMS:
    for mb in range(0, chrom_len[name] + 1, 25):
        lab = str(mb)
        annotations.append(radial_text(lab, chrom_start[name] + mb * DEG_PER_MB, 469 + len(lab) * 3.75, 14))
    annotations.append(radial_text(name, chrom_start[name] + chrom_len[name] * DEG_PER_MB / 2, 503, 16))


def label(text, x, y, size, bold=False):
    return dict(text=f"<b>{text}</b>" if bold else text, x=x / W, y=1 - y / H, xref="paper", yref="paper",
                xanchor="left", yanchor="middle", showarrow=False,
                font=dict(family=FONT, size=size, color="#000"))


annotations += [
    label("A", 30, 71, 53), label("B", 1041, 71, 53), label("C", 522, 1048, 53),
    label("Dataset", 590, 126, 39, True), label("Dataset", 719, 176, 39, True),
    label("Normal", 786, 232, 39), label("Cancer", 786, 289, 39),
    label("Dataset", 1621, 120, 39, True), label("Dataset", 1749, 168, 39, True),
    label("Normal", 1816, 225, 39), label("Cancer", 1816, 282, 39),
]


def swatch(x0, x1, y0, y1, color):
    return dict(type="rect", xref="paper", yref="paper", x0=x0 / W, x1=x1 / W, y0=1 - y0 / H, y1=1 - y1 / H,
                fillcolor=color, line=dict(width=0), layer="below")


shapes = [
    swatch(0, W, 0, 11, "#fbfbfb"),
    swatch(719, 777, 204, 261, NORMAL), swatch(719, 777, 261, 318, CANCER),
    swatch(1749, 1806, 197, 253, NORMAL), swatch(1749, 1806, 253, 309, CANCER),
]

fig.update_layout(
    width=W, height=H, margin=dict(l=0, r=0, t=0, b=0), showlegend=False,
    paper_bgcolor="white", plot_bgcolor="rgba(0,0,0,0)", annotations=annotations, shapes=shapes,
    polar=dict(
        domain=dict(x=[(CX - R) / W, (CX + R) / W], y=[1 - (CY + R) / H, 1 - (CY - R) / H]),
        bgcolor="rgba(0,0,0,0)", barmode="overlay",
        radialaxis=dict(range=[0, R], visible=False),
        angularaxis=dict(visible=False, direction="clockwise", rotation=90, type="linear", thetaunit="degrees"),
    ),
    **layout_axes,
)

fig.write_html("out.html", config={"displayModeBar": False}, post_script="document.body.style.margin='0';")
